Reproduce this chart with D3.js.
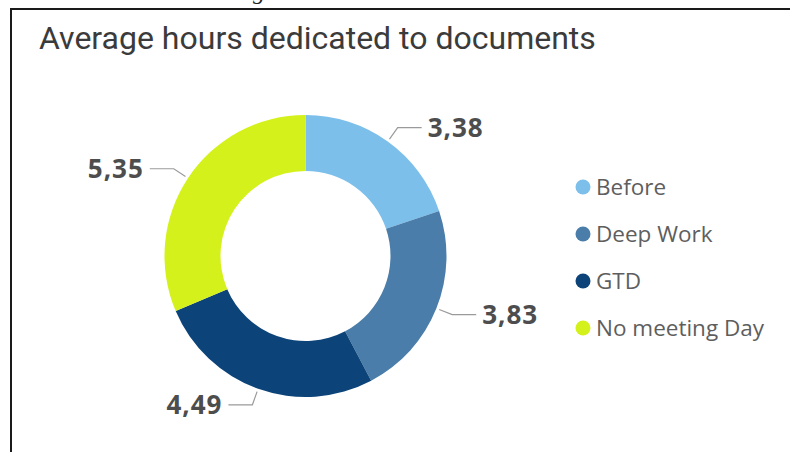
<!DOCTYPE html>
<html>
<head>
<meta charset="utf-8">
<script src="https://cdn.jsdelivr.net/npm/d3@7"></script>
<style>
  body { margin: 0; background: #fff; }
  svg { display: block; }
</style>
</head>
<body>
<div id="chart"></div>
<script>
var svgWidth = 790
var svgHeight = 452

// Chart data
var categories = ["Before", "Deep Work", "GTD", "No meeting Day"];
var hours = [3.38, 3.83, 4.49, 5.35];
var valueLabels = ["3,38", "3,83", "4,49", "5,35"];
var colors = ["#7CBFEB", "#4A7DAA", "#0C4479", "#D4F11B"];

// Donut dimensions
var cx = 305.5, cy = 256;
var outerR = 141, innerR = 85;

var svg = d3.select("#chart")
    .append("svg")
    .attr("width", svgWidth)
    .attr("height", svgHeight);

// Frame lines of the cropped visual
svg.append("line")
    .attr("x1", 11).attr("y1", 9).attr("x2", svgWidth).attr("y2", 9)
    .attr("stroke", "#1a1a1a").attr("stroke-width", 2);
svg.append("line")
    .attr("x1", 11).attr("y1", 8).attr("x2", 11).attr("y2", svgHeight)
    .attr("stroke", "#1a1a1a").attr("stroke-width", 2);

// Descender of the text above the crop
svg.append("text")
    .attr("x", 253).attr("y", -1)
    .attr("font-family", "Liberation Serif")
    .attr("font-style", "italic")
    .attr("font-size", 24)
    .attr("fill", "#222")
    .text("g");

// Title
svg.append("text")
    .attr("x", 39)
    .attr("y", 49)
    .attr("font-family", "Roboto")
    .attr("font-size", 32)
    .attr("fill", "#3b3b3b")
    .text("Average hours dedicated to documents");

var data = categories.map((c, i) => ({name: c, value: hours[i], label: valueLabels[i], color: colors[i]}));

var pie = d3.pie()
    .value(d => d.value)
    .sort(null);

var arc = d3.arc()
    .innerRadius(innerR)
    .outerRadius(outerR);

var chartGroup = svg.append("g")
    .attr("transform", `translate(${cx}, ${cy})`);

var arcs = pie(data);

chartGroup.selectAll("path.slice")
    .data(arcs)
    .enter()
    .append("path")
    .attr("class", "slice")
    .attr("d", arc)
    .attr("fill", d => d.data.color);

// Leader lines and value labels
var startArc = d3.arc().innerRadius(outerR + 3).outerRadius(outerR + 3);
var elbowArc = d3.arc().innerRadius(outerR + 17).outerRadius(outerR + 17);

function midAngle(d) { return (d.startAngle + d.endAngle) / 2; }
function side(d) { return midAngle(d) < Math.PI ? 1 : -1; }

chartGroup.selectAll("polyline")
    .data(arcs)
    .enter()
    .append("polyline")
    .attr("fill", "none")
    .attr("stroke", "#9a9a9a")
    .attr("stroke-width", 1.2)
    .attr("points", d => {
        var a = startArc.centroid(d);
        var b = elbowArc.centroid(d);
        var c = [b[0] + side(d) * 24, b[1]];
        return [a, b, c].map(p => p.join(",")).join(" ");
    });

chartGroup.selectAll("text.value")
    .data(arcs)
    .enter()
    .append("text")
    .attr("class", "value")
    .attr("x", d => elbowArc.centroid(d)[0] + side(d) * 30)
    .attr("y", d => elbowArc.centroid(d)[1])
    .attr("dy", "0.36em")
    .attr("text-anchor", d => side(d) > 0 ? "start" : "end")
    .attr("font-family", "Open Sans")
    .attr("font-weight", "bold")
    .attr("font-size", 26)
    .attr("letter-spacing", 1)
    .attr("fill", "#4d4d4d")
    .text(d => d.data.label);

// Legend
var legendY = d3.scalePoint()
    .domain(categories)
    .range([187, 328]);

var legend = svg.append("g");

var item = legend.selectAll("g")
    .data(data)
    .enter()
    .append("g")
    .attr("transform", d => `translate(583, ${legendY(d.name)})`);

item.append("circle")
    .attr("r", 7.5)
    .attr("fill", d => d.color);

item.append("text")
    .attr("x", 13)
    .attr("dy", "0.35em")
    .attr("font-family", "Open Sans")
    .attr("font-size", 22.5)
    .attr("fill", "#5e5e5e")
    .text(d => d.name);
</script>
</body>
</html>
